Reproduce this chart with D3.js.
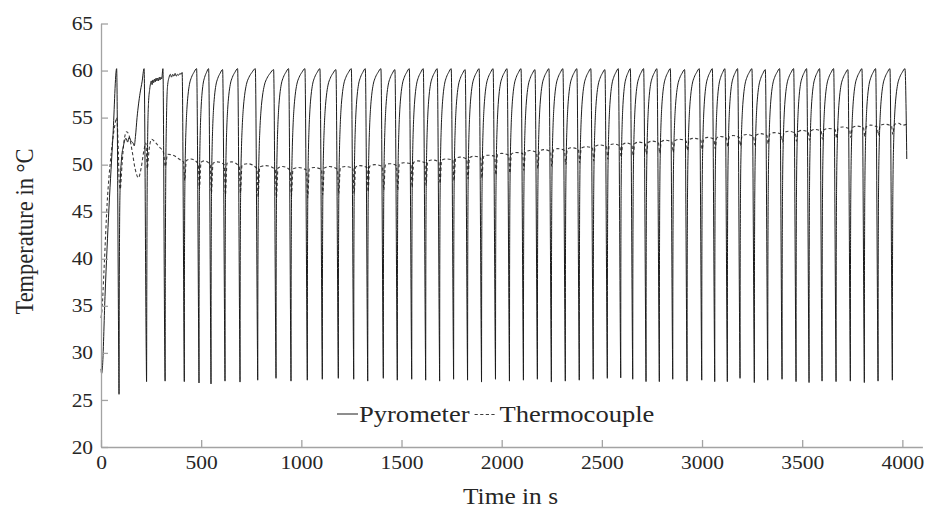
<!DOCTYPE html>
<html>
<head>
<meta charset="utf-8">
<script src="https://cdn.jsdelivr.net/npm/d3@7"></script>
<style>
body { margin: 0; background: #fff; }
text { font-family: "Liberation Serif", serif; fill: #262626; }
</style>
</head>
<body>
<svg id="chart" width="930" height="509"></svg>
<script>
// warm-up part of the pyrometer signal, read point by point (s, °C)
const pyroStartTime = [0, 3, 7, 20, 40, 60, 78, 88.5, 90, 91, 93, 96, 102, 112, 125, 133, 140, 150, 160, 166, 172, 180, 195, 205, 215,
                       226, 227.5, 228.5, 230, 233, 237, 243, 247, 251, 255, 259, 263, 267, 271, 275, 279, 283, 287, 291, 295, 299, 303, 309,
                       318.5, 320, 321, 323, 327, 332, 340, 346, 352, 358, 364, 370, 376, 382, 388, 394, 400, 405]
const pyroStartTemp = [28.3, 27.8, 28.4, 36.0, 45.5, 53.2, 60.2, 29.5, 25.6, 35, 44, 48, 50.5, 52.0, 52.8, 52.4, 52.9, 52.5, 52.3, 52.0, 53.0, 55.0, 57.6, 58.8, 60.2,
                       29.5, 26.95, 36, 46, 53, 56.5, 58.0, 58.6, 58.9, 58.5, 59.0, 58.7, 59.1, 58.8, 59.2, 58.9, 59.2, 58.9, 59.3, 59.0, 59.3, 59.1, 60.2,
                       29.5, 27.0, 38, 48, 55, 58.3, 59.3, 59.6, 59.3, 59.6, 59.4, 59.7, 59.4, 59.6, 59.5, 59.7, 59.6, 59.8]

// regular cycles: time of each sharp minimum (s) and its temperature
const cycleBottom = [415.8, 489.2, 549.1, 619, 693.9, 782.2, 873.6, 948.4, 1029.8, 1104.7, 1184.6, 1261.4, 1331.3, 1409.2, 1479, 1550.9,
                     1620.6, 1690.3, 1760, 1829.7, 1899.4, 1969.1, 2038.8, 2108.5, 2178.2, 2247.9, 2317.6, 2387.3, 2457, 2527.3,
                     2594.2, 2654.1, 2720.5, 2786.9, 2853.8, 2925.2, 2998.5, 3063.4, 3126.3, 3189.7, 3261.1, 3328, 3399.4, 3469.3,
                     3534.2, 3599.1, 3669, 3740.3, 3810.2, 3878.6, 3950]
const cycleMin = [26.95, 26.8, 26.7, 27.0, 26.9, 27.1, 27.3, 27.0, 27.1, 27.2, 27.3, 27.2, 27.0, 27.3, 27.1, 27.2,
                  27.1, 27.0, 27.2, 27.1, 26.9, 27.2, 27.0, 27.1, 27.2, 26.9, 27.0, 27.1, 27.2, 27.3,
                  27.35, 27.2, 26.95, 26.95, 27.2, 27.0, 27.1, 26.95, 26.95, 27.3, 26.85, 27.1, 27.2, 26.95,
                  26.85, 27.0, 26.95, 27.0, 26.85, 27.0, 27.1]
const cyclePeak = [60.2, 60.2, 60.1, 60.2, 60.2, 60.1, 60.2, 60.2, 60.2, 60.1, 60.2, 60.2, 60.2, 60.1, 60.2, 60.2,
                   60.2, 60.2, 60.1, 60.2, 60.2, 60.2, 60.2, 60.1, 60.2, 60.2, 60.2, 60.2, 60.1, 60.2,
                   60.2, 60.2, 60.2, 60.2, 60.1, 60.2, 60.2, 60.2, 60.2, 60.2, 60.1, 60.2, 60.2, 60.2,
                   60.2, 60.2, 60.1, 60.2, 60.2, 60.2, 60.2]
// typical rise after a minimum, read from one cycle: share of rise time / share of gain
const riseTime = [0, 0.01, 0.025, 0.05, 0.09, 0.14, 0.21, 0.3, 0.42, 0.58, 0.78, 1]
const riseGain = [0, 0.3, 0.5, 0.64, 0.74, 0.81, 0.87, 0.915, 0.95, 0.972, 0.988, 1]
const pyroEndTime = [4013, 4022]
const pyroEndTemp = [60.2, 50.6]

// thermocouple, warm-up part
const tcStartTime = [0, 5, 15, 31, 50, 70, 78, 85, 91, 96, 105, 115, 128, 140, 155, 170, 187, 200, 215, 224, 231, 240, 253, 270, 290, 312, 321, 332, 360, 390, 405]
const tcStartTemp = [33.7, 34.6, 38.8, 46.0, 51.0, 54.3, 55.0, 52.5, 48.2, 47.4, 50.0, 52.5, 53.5, 53.1, 51.5, 49.6, 48.6, 49.6, 51.6, 52.3, 49.6, 51.6, 52.7, 52.4, 51.9, 51.3, 49.8, 51.1, 51.0, 50.6, 50.4]
// thermocouple level before each pyrometer minimum, and the dip that follows
const tcBase = [50.3, 50.1, 50.0, 50.0, 49.8, 49.6, 49.5, 49.4, 49.4, 49.5, 49.5, 49.6, 49.7, 49.8, 49.9, 50.1,
                50.2, 50.3, 50.5, 50.6, 50.7, 50.9, 51.0, 51.2, 51.3, 51.4, 51.5, 51.6, 51.8, 51.9,
                52.0, 52.1, 52.2, 52.3, 52.4, 52.5, 52.6, 52.7, 52.8, 52.9, 53.0, 53.1, 53.25, 53.35,
                53.45, 53.55, 53.7, 53.8, 53.9, 54.0, 54.1]
const tcDip = [48.3, 47.4, 47.0, 46.8, 47.0, 46.6, 46.5, 46.7, 46.5, 46.8, 46.9, 46.9, 47.1, 47.3, 47.3, 47.6,
               47.8, 48.0, 48.3, 48.5, 48.6, 48.9, 49.1, 49.4, 49.6, 49.8, 50.0, 50.2, 50.4, 50.6,
               50.8, 50.9, 51.1, 51.2, 51.3, 51.5, 51.6, 51.7, 51.9, 52.0, 52.1, 52.2, 52.4, 52.5,
               52.6, 52.7, 52.8, 52.9, 53.0, 53.1, 53.2]
const tcEndTime = [4000, 4030]
const tcEndTemp = [54.2, 54.35]

const xTicks = d3.range(0, 4001, 500)
const yTicks = d3.range(20, 66, 5)

const stretch = 1.13   // the picture is a bit wider than its font

const svg = d3.select('#chart')
const x = d3.scaleLinear().domain([0, 4100]).range([101, 922.4])
const y = d3.scaleLinear().domain([20, 65]).range([447, 23.5])

// build pyrometer series
let pyro = pyroStartTime.map((t, i) => [t, pyroStartTemp[i]])
cycleBottom.forEach((td, i) => {
    const last = i == cycleBottom.length - 1
    const peakT = last ? pyroEndTime[0] : cycleBottom[i + 1] - 12
    pyro.push([td - 1, 29.5])
    pyro.push([td, cycleMin[i]])
    riseTime.forEach((f, k) => {
        if (k == 0) return
        pyro.push([td + f * (peakT - td), cycleMin[i] + riseGain[k] * (cyclePeak[i] - cycleMin[i])])
    })
})
pyro[pyro.length - 1] = [pyroEndTime[0], pyroEndTemp[0]]
pyro.push([pyroEndTime[1], pyroEndTemp[1]])

// thermocouple series
let tc = tcStartTime.map((t, i) => [t, tcStartTemp[i]])
cycleBottom.forEach((td, i) => {
    const next = i < cycleBottom.length - 1 ? cycleBottom[i + 1] : 4020
    tc.push([td - 4, tcBase[i]])
    tc.push([td + 2, tcDip[i]])
    tc.push([td + 10, tcBase[i] + 0.15])
    tc.push([td + 0.45 * (next - td), tcBase[i] + 0.3])
})
tcEndTime.forEach((t, i) => tc.push([t, tcEndTemp[i]]))

const line = d3.line()
    .x(d => x(d[0]))
    .y(d => y(d[1]))
    .curve(d3.curveMonotoneX)

svg.append('path')
    .datum(tc)
    .attr('d', line)
    .attr('fill', 'none')
    .attr('stroke', '#3e3e3e')
    .attr('stroke-width', 1.1)
    .attr('stroke-dasharray', '3.2,2.4')

svg.append('path')
    .datum(pyro)
    .attr('d', line)
    .attr('fill', 'none')
    .attr('stroke', '#1c1c1c')
    .attr('stroke-width', 1)

// axes
svg.append('g')
    .attr('transform', `translate(0,${y(20)})`)
    .call(d3.axisBottom(x).tickValues(xTicks).tickFormat(d3.format('d')).tickSize(-7).tickSizeOuter(0).tickPadding(9))
svg.append('g')
    .attr('transform', `translate(${x(0)},0)`)
    .call(d3.axisLeft(y).tickValues(yTicks).tickFormat(d3.format('d')).tickSize(-7).tickSizeOuter(0).tickPadding(7))

svg.selectAll('.domain, .tick line').attr('stroke', '#a3a3a3').attr('stroke-width', 1.3)
svg.selectAll('.tick text')
    .attr('fill', '#333')
    .style('font-size', '19px')
    .style('font-family', '"Liberation Serif", serif')
    .attr('transform', `scale(${stretch},1)`)

// axis titles
svg.append('text')
    .attr('transform', `translate(510.5,504) scale(${stretch},1)`)
    .attr('text-anchor', 'middle')
    .style('font-size', '22.5px')
    .text('Time in s')

svg.append('text')
    .attr('transform', `translate(32.5,231.5) scale(${stretch},1) rotate(-90)`)
    .attr('text-anchor', 'middle')
    .style('font-size', '22.5px')
    .text('Temperature in °C')

// legend
const legend = svg.append('g')
const legendY = 421.5
let lx = 337
legend.append('line')
    .attr('x1', lx).attr('x2', lx + 21).attr('y1', legendY - 7.5).attr('y2', legendY - 7.5)
    .attr('stroke', '#1c1c1c').attr('stroke-width', 1)
lx += 22
const t1 = legend.append('text')
    .attr('transform', `translate(${lx},${legendY}) scale(${stretch},1)`)
    .style('font-size', '23.5px')
    .text('Pyrometer')
lx += t1.node().getComputedTextLength() * stretch + 5
legend.append('line')
    .attr('x1', lx).attr('x2', lx + 22).attr('y1', legendY - 7).attr('y2', legendY - 7)
    .attr('stroke', '#3e3e3e').attr('stroke-width', 1.1).attr('stroke-dasharray', '3.2,2.4')
lx += 25
legend.append('text')
    .attr('transform', `translate(${lx},${legendY}) scale(${stretch},1)`)
    .style('font-size', '23.5px')
    .text('Thermocouple')
</script>
</body>
</html>
